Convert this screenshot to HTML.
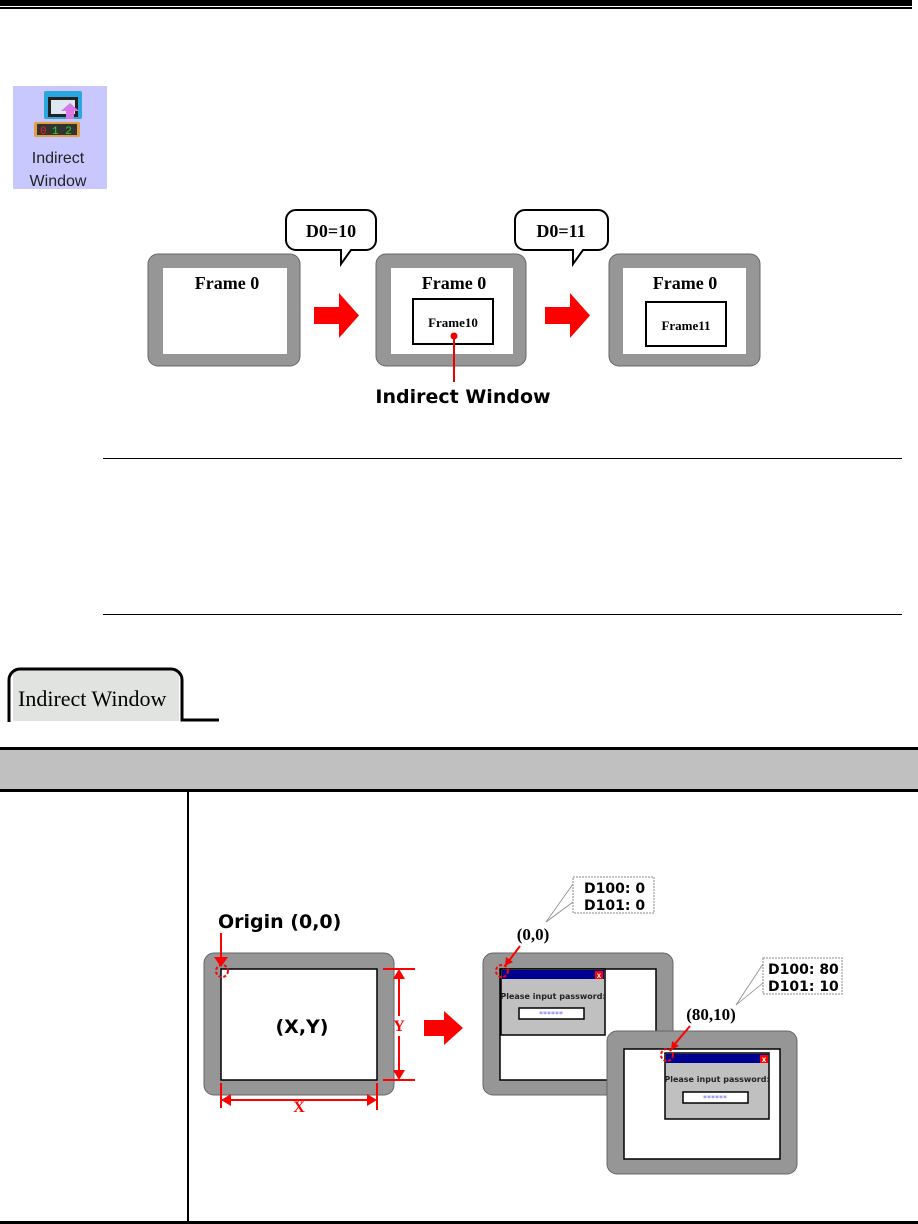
<!DOCTYPE html>
<html><head><meta charset="utf-8"><style>
html,body{margin:0;padding:0;background:#fff;width:918px;height:1224px;overflow:hidden}
svg{display:block}
.sb{font-family:"Liberation Serif",serif;font-weight:bold}
.ss{font-family:"DejaVu Sans","Liberation Sans",sans-serif;font-weight:bold}
</style></head><body>
<svg width="918" height="1224" viewBox="0 0 918 1224" xmlns="http://www.w3.org/2000/svg">
<rect x="0" y="0" width="912" height="6" fill="#000"/>
<rect x="0" y="7" width="912" height="2" fill="#000"/>
<!-- icon -->
<rect x="13" y="86" width="94" height="103" fill="#c8c8ff"/>
<rect x="44" y="91" width="38" height="28" rx="2" fill="#2aa7e0"/>
<rect x="48" y="97" width="30" height="20" fill="#222"/>
<rect x="51" y="100" width="24" height="14" fill="#dde8f0"/>
<path d="M66 119 v-8 h-5 l9 -8 9 8 h-5 v8z" fill="#d877e8"/>
<rect x="34" y="122" width="46" height="15" rx="2" fill="#e0a040"/>
<rect x="37" y="124" width="40" height="11" fill="#333"/>
<text x="40" y="134" font-family="Liberation Mono,monospace" font-size="11" fill="#e22">0</text>
<text x="52" y="134" font-family="Liberation Mono,monospace" font-size="11" fill="#2d2">1 2</text>
<text x="58" y="163" text-anchor="middle" font-family="Liberation Sans,sans-serif" font-size="16" fill="#222">Indirect</text>
<text x="58" y="186" text-anchor="middle" font-family="Liberation Sans,sans-serif" font-size="16" fill="#222">Window</text>
<!-- frames top -->
<g fill="#969696" stroke="#666" stroke-width="1">
<rect x="148" y="254" width="152" height="112" rx="10"/>
<rect x="376" y="254" width="150" height="112" rx="10"/>
<rect x="609" y="254" width="151" height="112" rx="10"/>
</g>
<g fill="#fff">
<rect x="163" y="268" width="124" height="86"/>
<rect x="391" y="268" width="122" height="86"/>
<rect x="623" y="268" width="123" height="86"/>
</g>
<g class="sb" font-size="18" text-anchor="middle">
<text x="227" y="289">Frame 0</text>
<text x="454" y="289">Frame 0</text>
<text x="685" y="289">Frame 0</text>
</g>
<rect x="413" y="299" width="80" height="45" fill="#fff" stroke="#000" stroke-width="2"/>
<rect x="646" y="302" width="80" height="44" fill="#fff" stroke="#000" stroke-width="2"/>
<text x="453" y="327" class="sb" font-size="13" text-anchor="middle">Frame10</text>
<text x="686" y="330" class="sb" font-size="13" text-anchor="middle">Frame11</text>
<circle cx="454" cy="336" r="3.5" fill="#e00"/>
<line x1="454" y1="336" x2="454" y2="382" stroke="#e00" stroke-width="2"/>
<text x="463" y="403" class="ss" font-size="19" text-anchor="middle">Indirect Window</text>
<g fill="#f00">
<path d="M314 307 h25 v-14 l20 22.5 -20 22.5 v-14 h-25z"/>
<path d="M545 307 h25 v-14 l20 22.5 -20 22.5 v-14 h-25z"/>
</g>
<g fill="#fff" stroke="#000" stroke-width="2">
<path d="M296 210 h70 a10 10 0 0 1 10 10 v20 a10 10 0 0 1 -10 10 h-15 l-10 14 0 -14 h-45 a10 10 0 0 1 -10 -10 v-20 a10 10 0 0 1 10 -10z"/>
<path d="M525 210 h73 a10 10 0 0 1 10 10 v20 a10 10 0 0 1 -10 10 h-15 l-10 14 0 -14 h-48 a10 10 0 0 1 -10 -10 v-20 a10 10 0 0 1 10 -10z"/>
</g>
<text x="331" y="237" class="sb" font-size="18" text-anchor="middle">D0=10</text>
<text x="561" y="237" class="sb" font-size="18" text-anchor="middle">D0=11</text>
<!-- rules -->
<line x1="103" y1="458.5" x2="902" y2="458.5" stroke="#000" stroke-width="1"/>
<line x1="103" y1="614.5" x2="902" y2="614.5" stroke="#000" stroke-width="1"/>
<!-- tab -->
<path d="M16 670 h163 v51 h-166 v-48z" fill="#e0e3e0"/>
<path d="M9 722 v-42 a11 11 0 0 1 11 -11 h151 a11 11 0 0 1 11 11 v40 h37" fill="none" stroke="#000" stroke-width="3"/>
<text x="18" y="706" font-family="Liberation Serif,serif" font-size="22">Indirect Window</text>
<!-- table -->
<rect x="0" y="747" width="918" height="45" fill="#000"/>
<rect x="0" y="750" width="918" height="39" fill="#c0c0c0"/>
<rect x="187" y="792" width="2" height="430" fill="#000"/>
<rect x="0" y="1221" width="918" height="3" fill="#000"/>
<!-- left diagram -->
<text x="218" y="928" class="ss" font-size="19">Origin (0,0)</text>
<rect x="204" y="953" width="190" height="142" rx="10" fill="#969696" stroke="#666"/>
<rect x="221" y="969" width="156" height="111" fill="#fff" stroke="#000" stroke-width="1.5"/>
<text x="302" y="1033" class="ss" font-size="19" text-anchor="middle">(X,Y)</text>
<g stroke="#f00" stroke-width="2" fill="none">
<line x1="221" y1="933" x2="221" y2="960"/>
<circle cx="222" cy="971" r="6" stroke-dasharray="3,2"/>
<line x1="383" y1="969" x2="415" y2="969"/>
<line x1="383" y1="1080" x2="415" y2="1080"/>
<line x1="399" y1="978" x2="399" y2="1016"/>
<line x1="399" y1="1036" x2="399" y2="1071"/>
<line x1="221" y1="1083" x2="221" y2="1108"/>
<line x1="377" y1="1083" x2="377" y2="1110"/>
<line x1="230" y1="1100" x2="368" y2="1100"/>
</g>
<g fill="#f00">
<path d="M214 957 l7 10 7 -10z"/>
<path d="M393 979 l6 -10 6 10z"/>
<path d="M393 1070 l6 10 6 -10z"/>
<path d="M231 1094 l-10 6 10 6z"/>
<path d="M367 1094 l10 6 -10 6z"/>
<text x="399" y="1031" font-family="Liberation Serif,serif" font-weight="bold" font-size="16" text-anchor="middle">Y</text>
<text x="299" y="1112" font-family="Liberation Serif,serif" font-weight="bold" font-size="16" text-anchor="middle">X</text>
<path d="M424 1020 h20 v-9 l19 17 -19 17 v-9 h-20z"/>
</g>
<!-- right diagram A -->
<rect x="483" y="953" width="190" height="142" rx="10" fill="#969696" stroke="#666"/>
<rect x="500" y="969" width="156" height="111" fill="#fff" stroke="#000" stroke-width="1.5"/>
<rect x="501" y="969" width="104" height="66" fill="#c0c0c0" stroke="#000" stroke-width="1.5"/>
<rect x="502" y="970" width="102" height="9" fill="#000090"/>
<rect x="595" y="971" width="8" height="8" fill="#f00"/>
<text x="599" y="978" font-family="Liberation Sans,sans-serif" font-size="8" font-weight="bold" fill="#fff" text-anchor="middle">x</text>
<text x="553" y="999" font-family="DejaVu Sans,sans-serif" font-size="8" font-weight="bold" fill="#222" text-anchor="middle">Please input password:</text>
<rect x="519" y="1008" width="65" height="11" fill="#fff" stroke="#000" stroke-width="1.5"/>
<text x="551" y="1017" font-family="DejaVu Sans,sans-serif" font-size="8" fill="#66f" text-anchor="middle">******</text>
<!-- B -->
<rect x="607" y="1031" width="190" height="143" rx="10" fill="#969696" stroke="#666"/>
<rect x="624" y="1049" width="156" height="110" fill="#fff" stroke="#000" stroke-width="1.5"/>
<rect x="665" y="1053" width="104" height="66" fill="#c0c0c0" stroke="#000" stroke-width="1.5"/>
<rect x="666" y="1054" width="102" height="9" fill="#000090"/>
<rect x="760" y="1055" width="8" height="8" fill="#f00"/>
<text x="764" y="1062" font-family="Liberation Sans,sans-serif" font-size="8" font-weight="bold" fill="#fff" text-anchor="middle">x</text>
<text x="717" y="1082" font-family="DejaVu Sans,sans-serif" font-size="8" font-weight="bold" fill="#222" text-anchor="middle">Please input password:</text>
<rect x="683" y="1092" width="65" height="11" fill="#fff" stroke="#000" stroke-width="1.5"/>
<text x="715" y="1101" font-family="DejaVu Sans,sans-serif" font-size="8" fill="#66f" text-anchor="middle">******</text>
<!-- labels -->
<g stroke="#f00" stroke-width="2" fill="none">
<circle cx="502" cy="971" r="6" stroke-dasharray="3,2"/>
<line x1="520" y1="946" x2="508" y2="962"/>
<circle cx="667" cy="1055" r="6" stroke-dasharray="3,2"/>
<line x1="690" y1="1026" x2="674" y2="1045"/>
</g>
<path d="M505 966 l1 -9 7 5z" fill="#f00"/>
<path d="M671 1050 l1 -9 7 5z" fill="#f00"/>
<text x="533" y="940" class="sb" font-size="17" text-anchor="middle">(0,0)</text>
<text x="711" y="1020" class="sb" font-size="17" text-anchor="middle">(80,10)</text>
<rect x="573" y="877" width="81" height="36" fill="#fff" stroke="#888" stroke-dasharray="2,1"/>
<text x="584" y="893" class="ss" font-size="14">D100: 0</text>
<text x="584" y="910" class="ss" font-size="14">D101: 0</text>
<line x1="546" y1="922" x2="573" y2="884" stroke="#888" stroke-width="0.8"/>
<line x1="546" y1="922" x2="573" y2="902" stroke="#888" stroke-width="0.8"/>
<rect x="763" y="958" width="79" height="36" fill="#fff" stroke="#888" stroke-dasharray="2,1"/>
<text x="768" y="974" class="ss" font-size="14">D100: 80</text>
<text x="768" y="991" class="ss" font-size="14">D101: 10</text>
<line x1="736" y1="1005" x2="763" y2="964" stroke="#888" stroke-width="0.8"/>
<line x1="736" y1="1005" x2="763" y2="983" stroke="#888" stroke-width="0.8"/>
</svg>
</body></html>
